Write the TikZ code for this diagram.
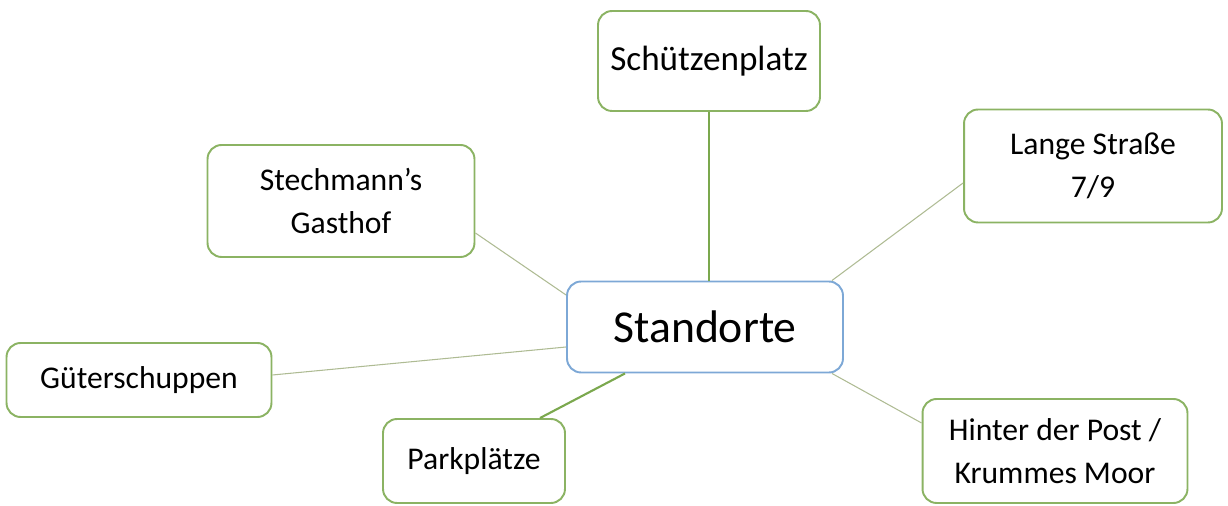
\documentclass[tikz,border=0pt]{standalone}
\usepackage{fontspec}
\setmainfont{Carlito}
\usetikzlibrary{positioning, calc}
\definecolor{leaf}{HTML}{8BB363}
\definecolor{hub}{HTML}{7DA8D6}
\definecolor{twig}{HTML}{AEBB93}
\definecolor{branch}{HTML}{7BA84E}
\begin{document}
\begin{tikzpicture}[
  x=0.02cm, y=-0.02cm,
  place/.style={draw=leaf, line width=1.1pt, fill=white, rounded corners=8pt,
                font=\fontsize{18}{24.5}\selectfont, align=center, inner sep=0pt},
  centre/.style={place, draw=hub, font=\fontsize{26}{30}\selectfont},
  thin/.style={draw=twig, line width=0.6pt},
  thick/.style={draw=branch, line width=1.2pt}
]
  \useasboundingbox (0,0) rectangle (1228,506);

  % Centre
  \node[centre, minimum width=5.52cm, minimum height=1.82cm] (standorte) at (705,327) {Standorte};

  % Locations
  \node[place, minimum width=4.44cm, minimum height=2.0cm,
        font=\fontsize{20}{24}\selectfont] (schuetzen) at (709,61) {Schützenplatz};
  \node[place, minimum width=5.34cm, minimum height=2.24cm] (stechmann) at (341,201) {Stechmann’s\\Gasthof};
  \node[place, minimum width=5.16cm, minimum height=2.26cm] (lange) at (1093,166) {Lange Straße\\7/9};
  \node[place, minimum width=5.3cm, minimum height=1.48cm] (gueter) at (139,380) {Güterschuppen};
  \node[place, minimum width=3.64cm, minimum height=1.68cm] (park) at (474,461) {Parkplätze};
  \node[place, minimum width=5.3cm, minimum height=2.08cm] (hinter) at (1055,451) {Hinter der Post /\\Krummes Moor};

  % Connectors
  \draw[thick] (schuetzen.south) -- (schuetzen.south |- standorte.north);
  \draw[thin] ($(stechmann.east)+(0,32)$) -- ($(standorte.west)+(0,-32)$);
  \draw[thin] ($(lange.west)+(0,17)$) -- ($(standorte.north east)+(-12,0)$);
  \draw[thin] ($(gueter.east)+(0,-5)$) -- ($(standorte.west)+(0,20)$);
  \draw[thick] ($(park.north)+(66,0)$) -- ($(standorte.south)+(-80,0)$);
  \draw[thin] ($(hinter.west)+(0,-28)$) -- ($(standorte.south east)+(-12,0)$);
\end{tikzpicture}
\end{document}
